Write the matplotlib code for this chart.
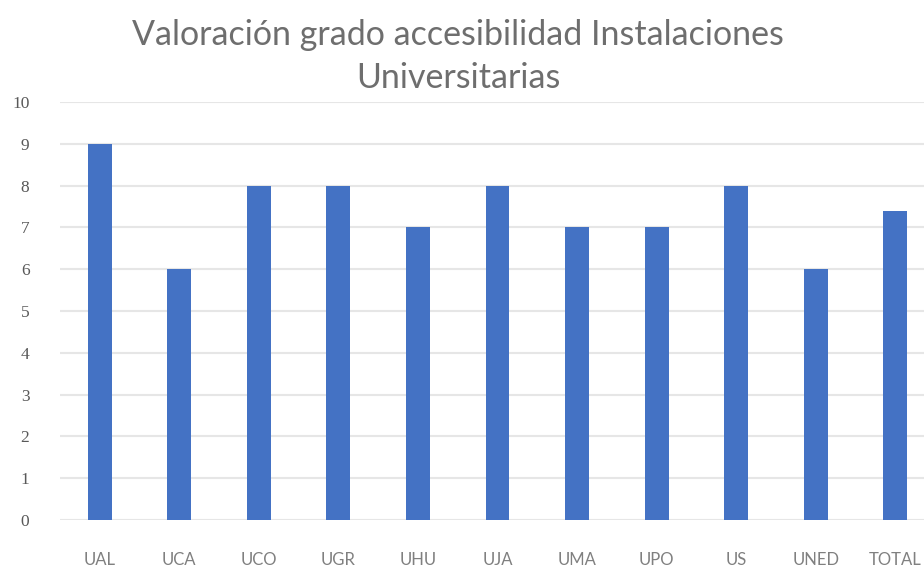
import matplotlib.pyplot as plt
import numpy as np

universidades = ['UAL', 'UCA', 'UCO', 'UGR', 'UHU', 'UJA', 'UMA', 'UPO', 'US', 'UNED', 'TOTAL']
valoracion = [9, 6, 8, 8, 7, 8, 7, 7, 8, 6, 7.4]
yticks = list(range(0, 11))

plt.rcParams['font.family'] = ['Lato', 'DejaVu Sans']

fig = plt.figure(figsize=(9.24, 5.68), dpi=100)
# el eje se sale por la derecha, como en la captura original
ax = fig.add_axes([60 / 924, 48 / 568, 875 / 924, 418 / 568])

x = np.arange(len(universidades))
ax.bar(x, valoracion, width=0.3, color='#4472C4', zorder=3)

ax.set_xlim(-0.5, len(universidades) - 0.5)
ax.set_ylim(0, 10)
ax.set_yticks(yticks)
ax.grid(axis='y', color='#e6e6e6', linewidth=1.5, zorder=0)
for s in ax.spines.values():
    s.set_visible(False)

ax.set_xticks(x)
ax.set_xticklabels(universidades, fontsize=12, color='#808080')
ax.set_yticklabels([str(t) for t in yticks], fontsize=12.5, color='#595959',
                   family='Liberation Serif')
ax.tick_params(axis='x', length=0, pad=23)
ax.tick_params(axis='y', length=0, pad=22)

fig.text(458 / 924, 1 - 45 / 568, 'Valoración grado accesibilidad Instalaciones',
         ha='center', va='baseline', fontsize=24.5, color='#6e6e6e')
fig.text(458 / 924, 1 - 88 / 568, 'Universitarias',
         ha='center', va='baseline', fontsize=24.5, color='#6e6e6e')

fig.savefig('out.png', dpi=100)
